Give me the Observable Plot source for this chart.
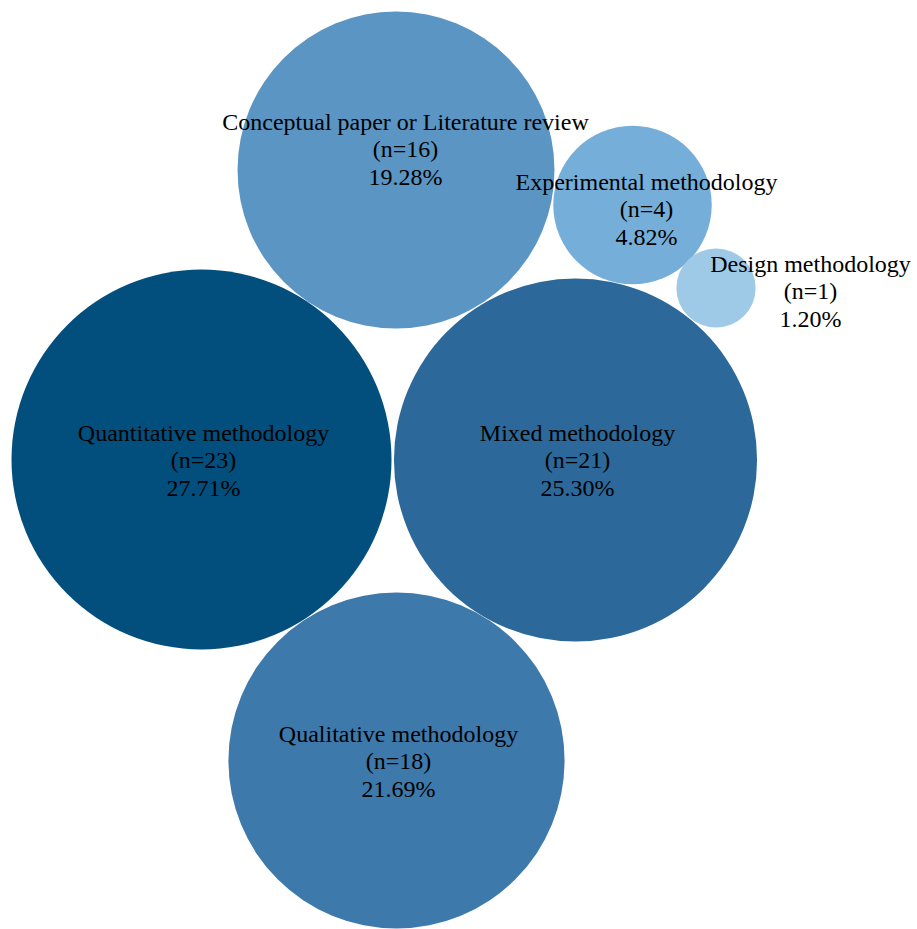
<!DOCTYPE html>
<html>
<head>
<meta charset="utf-8">
<script src="https://cdn.jsdelivr.net/npm/d3@7"></script>
<script src="https://cdn.jsdelivr.net/npm/@observablehq/plot@0.6"></script>
<style>
  html, body { margin: 0; padding: 0; background: #ffffff; }
  #chart { width: 917px; height: 929px; }
  #chart svg text { font-family: "Liberation Serif", "Times New Roman", serif !important; }
</style>
</head>
<body>
<div id="chart"></div>
<script>
// Categories and counts
const categories = [
  "Quantitative methodology",
  "Mixed methodology",
  "Qualitative methodology",
  "Conceptual paper or Literature review",
  "Experimental methodology",
  "Design methodology"
];
const counts = [23, 21, 18, 16, 4, 1];
const percents = ["27.71%", "25.30%", "21.69%", "19.28%", "4.82%", "1.20%"];
// Bubble layout coordinates (layout units)
const bubbleX = [201, 575, 396, 395.5, 632, 715.5];
const bubbleY = [459, 459.5, 760, 169.5, 204.5, 287.5];
// Label anchor coordinates (layout units)
const labelX = [203, 577, 398, 405, 646, 810];
const labelY = [459, 459, 760, 148, 208, 290];
const colors = ["#024f7e", "#2c6899", "#3e79ab", "#5b95c3", "#75aed8", "#9ecae8"];

const data = categories.map((c, i) => ({
  name: c,
  n: counts[i],
  pct: percents[i],
  x: bubbleX[i],
  y: bubbleY[i],
  lx: labelX[i],
  ly: labelY[i],
  color: colors[i],
  label: `${c}\n(n=${counts[i]})\n${percents[i]}`
}));

const W = 917, H = 929;
const chart = Plot.plot({
  width: W,
  height: H,
  margin: 0,
  style: { background: "#ffffff", fontFamily: "Liberation Serif, serif" },
  x: { type: "linear", domain: [0, W], range: [0, W], axis: null },
  y: { type: "linear", domain: [0, H], range: [0, H], axis: null },
  r: { type: "sqrt", domain: [0, 23], range: [0, 190] },
  marks: [
    Plot.dot(data, { x: "x", y: "y", r: "n", fill: "color", stroke: "none", fillOpacity: 1 }),
    Plot.text(data, {
      x: "lx", y: "ly", text: "label",
      fill: "#000000",
      fontSize: 24,
      fontFamily: "Liberation Serif",
      lineHeight: 1.15,
      lineAnchor: "middle",
      textAnchor: "middle"
    })
  ]
});
document.getElementById("chart").appendChild(chart);
</script>
</body>
</html>
